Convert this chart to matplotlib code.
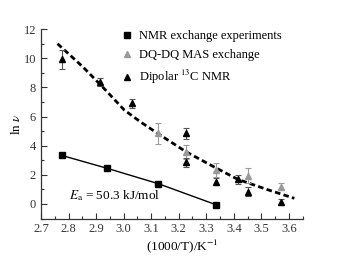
import numpy as np
import matplotlib.pyplot as plt
from matplotlib.ticker import MultipleLocator

plt.rcParams['font.family'] = ['Liberation Serif', 'DejaVu Serif']
plt.rcParams['mathtext.fontset'] = 'stix'

# NMR exchange experiments (squares) and its linear fit
nmr_x = [2.776, 2.94, 3.125, 3.334]
nmr_y = [3.33, 2.45, 1.40, -0.04]

# DQ-DQ MAS exchange (grey triangles)
dq_x = [3.124, 3.227, 3.336, 3.45, 3.573]
dq_y = [4.84, 3.58, 2.33, 1.95, 1.19]
dq_err = [0.75, 0.5, 0.45, 0.5, 0.25]

# Dipolar 13C NMR (black triangles)
dip_x = [2.776, 2.915, 3.03, 3.227, 3.227, 3.336, 3.415, 3.45, 3.573]
dip_y = [9.95, 8.38, 6.9, 4.84, 2.85, 1.53, 1.69, 0.84, 0.12]
dip_err = [0.65, 0.3, 0.3, 0.4, 0.3, 0.25, 0.3, 0.3, 0.2]

# dashed fit curve
fit_x = [2.76, 2.85, 2.924, 3.003, 3.064, 3.124, 3.227, 3.336, 3.415, 3.52, 3.62]
fit_y = [11.0, 9.45, 8.03, 6.44, 5.6, 4.84, 3.58, 2.47, 1.69, 1.0, 0.39]

fig = plt.figure(figsize=(3.4, 2.63), dpi=100)
ax = fig.add_axes([0.1206, 0.169, 0.7694, 0.72])

ax.plot(nmr_x, nmr_y, color='black', lw=1.0)
ax.plot(fit_x, fit_y, color='black', lw=2.0, ls=(0, (2, 1.2)))

ax.errorbar(dq_x, dq_y, yerr=dq_err, fmt='^', color='#9a9a9a', ms=5,
            ecolor='#9a9a9a', elinewidth=0.8, capsize=2.5, capthick=0.8, zorder=3)
ax.errorbar(dip_x, dip_y, yerr=dip_err, fmt='^', color='black', ms=5,
            ecolor='#555555', elinewidth=0.8, capsize=2.5, capthick=0.8, zorder=4)
ax.plot(nmr_x, nmr_y, 's', color='black', ms=4, zorder=5)

# legend handles (marker only)
h1, = ax.plot([], [], 's', color='black', ms=4)
h2, = ax.plot([], [], '^', color='#9a9a9a', ms=5)
h3, = ax.plot([], [], '^', color='black', ms=5)
fig.legend([h1, h2, h3],
           ['NMR exchange experiments', 'DQ-DQ MAS exchange', r'Dipolar $^{13}$C NMR'],
           loc='upper left', bbox_to_anchor=(0.36, 0.885), frameon=False,
           fontsize=9, handlelength=0.8, handletextpad=0.5, labelspacing=0.55,
           borderpad=0, borderaxespad=0)

ax.text(2.8, 0.55, r'$E_\mathrm{a}$ = 50.3 kJ/mol', fontsize=9.5, va='center')

ax.set_xlim(2.7, 3.65)
ax.set_ylim(-1, 12)
ax.set_xticks(np.arange(2.7, 3.61, 0.1))
ax.set_xticklabels(['2.7', '2.8', '2.9', '3.0', '3.1', '3.2', '3.3', '3.4', '3.5', '3.6'])
ax.set_yticks([0, 2, 4, 6, 8, 10, 12])
ax.xaxis.set_minor_locator(MultipleLocator(0.05))
ax.yaxis.set_minor_locator(MultipleLocator(1))
ax.tick_params(which='both', direction='in', labelsize=9, width=0.8, colors='#333333')
ax.tick_params(which='major', length=4)
ax.tick_params(which='minor', length=2)
ax.spines['top'].set_visible(False)
ax.spines['right'].set_visible(False)
for s in ['left', 'bottom']:
    ax.spines[s].set_linewidth(0.9)
    ax.spines[s].set_color('#333333')

ax.set_xlabel('(1000/T)/K$^{-1}$', fontsize=9.5)
ax.set_ylabel(r'ln $\nu$', fontsize=9.5)
ax.xaxis.set_label_coords(0.54, -0.1)
ax.yaxis.set_label_coords(-0.07, 0.5)

fig.savefig('out.png', dpi=100)
